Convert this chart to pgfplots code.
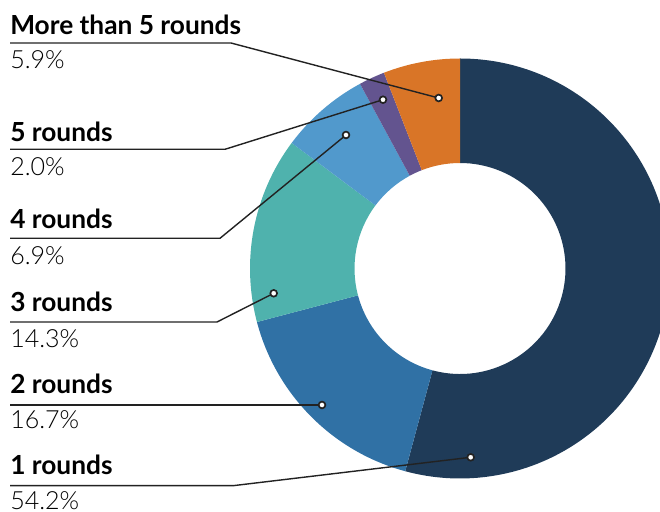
\documentclass[border=0pt]{standalone}
\usepackage{fontspec}
\setmainfont{Lato}
\newfontfamily\lightfont{Lato Light}
\usepackage{pgfplots}
\pgfplotsset{compat=1.18}
\definecolor{cnavy}{HTML}{1F3B58}
\definecolor{cblue}{HTML}{3071A5}
\definecolor{cteal}{HTML}{4FB2AD}
\definecolor{clight}{HTML}{5199CC}
\definecolor{cpurple}{HTML}{63548F}
\definecolor{corange}{HTML}{D97527}
\definecolor{cline}{HTML}{222222}
\newcommand{\lab}[1]{\fontsize{18.7pt}{20pt}\selectfont\bfseries #1}
\newcommand{\pct}[1]{\fontsize{17.8pt}{19pt}\selectfont\lightfont #1}
% #1 cumulative percent before segment, #2 segment percent, #3 colour
\newcommand{\seg}[3]{%
  \fill[#3] ([shift={({90-3.6*(#1)}:5.25cm)}]axis cs:460,268.5)
    arc[start angle={90-3.6*(#1)}, end angle={90-3.6*(#1+#2)}, radius=5.25cm]
    -- ([shift={({90-3.6*(#1+#2)}:2.6375cm)}]axis cs:460,268.5)
    arc[start angle={90-3.6*(#1+#2)}, end angle={90-3.6*(#1)}, radius=2.6375cm] -- cycle;}
\begin{document}
\begin{tikzpicture}
\begin{axis}[
  scale only axis, width=16.5cm, height=12.8cm,
  xmin=0, xmax=660, ymin=0, ymax=512, y dir=reverse,
  hide axis, clip=true,
]
\seg{0}{54.2}{cnavy}
\seg{54.2}{16.7}{cblue}
\seg{70.9}{14.3}{cteal}
\seg{85.2}{6.9}{clight}
\seg{92.1}{2.0}{cpurple}
\seg{94.1}{5.9}{corange}
% leader lines
\addplot[draw=cline, line width=1pt] coordinates {(10,43) (231,43) (438.7,98)};
\addplot[draw=cline, line width=1pt] coordinates {(10,149.3) (225,149.3) (383,99.7)};
\addplot[draw=cline, line width=1pt] coordinates {(10,238.3) (220,238.3) (346,135)};
\addplot[draw=cline, line width=1pt] coordinates {(10,322) (217,322) (273.7,293.3)};
\addplot[draw=cline, line width=1pt] coordinates {(10,405) (322,405)};
\addplot[draw=cline, line width=1pt] coordinates {(10,485.7) (233,485.7) (470.7,457.3)};
\addplot[only marks, mark=*, mark size=2.4pt, mark options={fill=white, draw=cline, line width=1.2pt}]
  coordinates {(438.7,98) (383,99.7) (346,135) (273.7,293.3) (322,405) (470.7,457.3)};
% labels
\node[anchor=base west, inner sep=0pt] at (axis cs:10,34.5) {\lab{More than 5 rounds}};
\node[anchor=base west, inner sep=0pt] at (axis cs:10,69) {\pct{5.9\%}};
\node[anchor=base west, inner sep=0pt] at (axis cs:10,141.7) {\lab{5 rounds}};
\node[anchor=base west, inner sep=0pt] at (axis cs:10,176) {\pct{2.0\%}};
\node[anchor=base west, inner sep=0pt] at (axis cs:10,229) {\lab{4 rounds}};
\node[anchor=base west, inner sep=0pt] at (axis cs:10,265) {\pct{6.9\%}};
\node[anchor=base west, inner sep=0pt] at (axis cs:10,311.7) {\lab{3 rounds}};
\node[anchor=base west, inner sep=0pt] at (axis cs:10,348) {\pct{14.3\%}};
\node[anchor=base west, inner sep=0pt] at (axis cs:10,393.3) {\lab{2 rounds}};
\node[anchor=base west, inner sep=0pt] at (axis cs:10,429) {\pct{16.7\%}};
\node[anchor=base west, inner sep=0pt] at (axis cs:10,474.3) {\lab{1 rounds}};
\node[anchor=base west, inner sep=0pt] at (axis cs:10,510) {\pct{54.2\%}};
\end{axis}
\pgfresetboundingbox
\useasboundingbox (current axis.south west) rectangle (current axis.north east);
\end{tikzpicture}
\end{document}
